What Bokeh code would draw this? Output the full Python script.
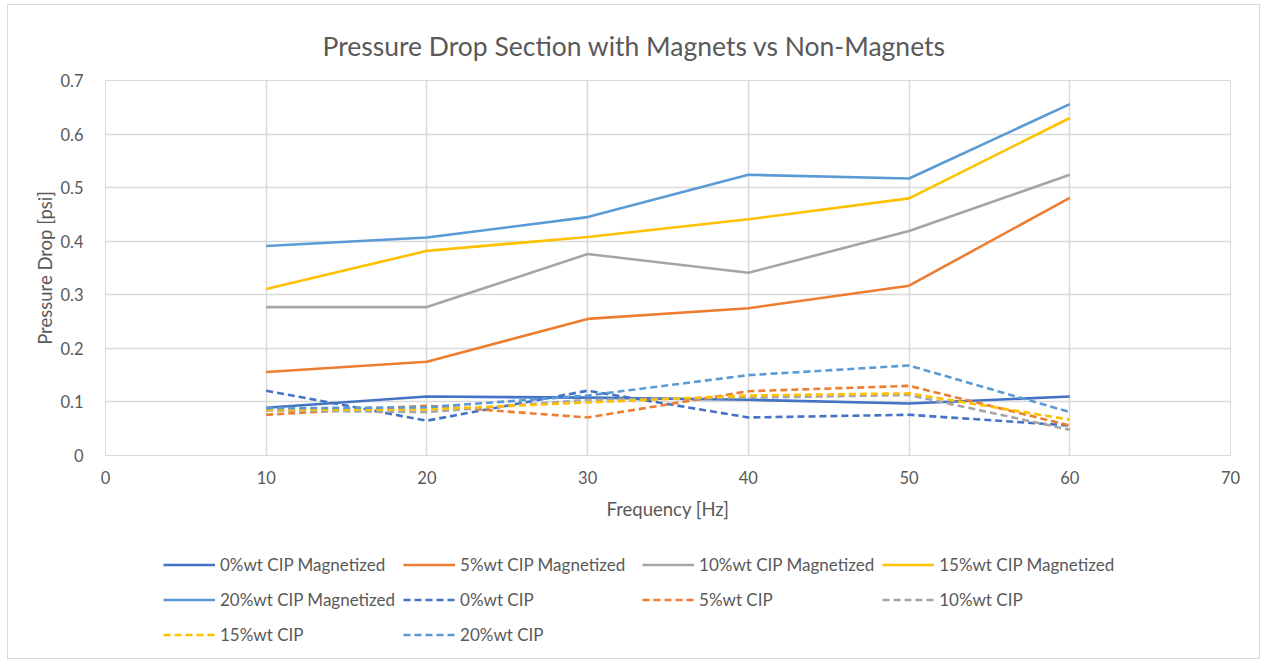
from bokeh.plotting import figure
from bokeh.layouts import column
from bokeh.models import Legend, LegendItem, FixedTicker, Range1d
from bokeh.embed import file_html
from bokeh.resources import INLINE

freq = [10, 20, 30, 40, 50, 60]

mag_0 = [0.089, 0.110, 0.108, 0.104, 0.097, 0.110]
mag_5 = [0.156, 0.175, 0.255, 0.275, 0.317, 0.481]
mag_10 = [0.277, 0.277, 0.376, 0.341, 0.419, 0.524]
mag_15 = [0.311, 0.382, 0.408, 0.441, 0.480, 0.630]
mag_20 = [0.391, 0.407, 0.445, 0.524, 0.517, 0.656]

non_0 = [0.121, 0.065, 0.121, 0.071, 0.076, 0.056]
non_5 = [0.076, 0.093, 0.071, 0.120, 0.130, 0.056]
non_10 = [0.084, 0.081, 0.104, 0.108, 0.113, 0.048]
non_15 = [0.085, 0.086, 0.099, 0.112, 0.116, 0.067]
non_20 = [0.088, 0.090, 0.112, 0.150, 0.168, 0.081]

labels = ["0%wt CIP Magnetized", "5%wt CIP Magnetized", "10%wt CIP Magnetized",
          "15%wt CIP Magnetized", "20%wt CIP Magnetized",
          "0%wt CIP", "5%wt CIP", "10%wt CIP", "15%wt CIP", "20%wt CIP"]
series = [mag_0, mag_5, mag_10, mag_15, mag_20, non_0, non_5, non_10, non_15, non_20]
colors = ["#4472C4", "#ED7D31", "#A5A5A5", "#FFC000", "#5B9BD5"] * 2
dashes = ["solid"] * 5 + ["7 4"] * 5

x_ticks = [0, 10, 20, 30, 40, 50, 60, 70]
y_ticks = [0, 0.1, 0.2, 0.3, 0.4, 0.5, 0.6, 0.7]

FONT = "Lato"
GREY = "#595959"
GRID = "#d9d9d9"

# main chart
p = figure(width=1251, height=535, output_backend="svg", toolbar_location=None,
           x_range=Range1d(0, 70), y_range=Range1d(0, 0.7),
           min_border_left=97, min_border_right=29, min_border_top=75, min_border_bottom=85)
p.outline_line_color = GRID
p.outline_line_width = 1

p.title.text = "Pressure Drop Section with Magnets vs Non-Magnets"
p.title.align = "left"
p.title.offset = 217
p.title.text_font = FONT
p.title.text_font_size = "26.5px"
p.title.text_font_style = "normal"
p.title.text_color = GREY
p.title.standoff = 38

for ax in (p.xaxis[0], p.yaxis[0]):
    ax.major_tick_line_color = None
    ax.minor_tick_line_color = None
    ax.axis_line_color = GRID
    ax.major_label_text_font = FONT
    ax.major_label_text_font_size = "16.5px"
    ax.major_label_text_color = GREY
    ax.axis_label_text_font = FONT
    ax.axis_label_text_font_size = "18.5px"
    ax.axis_label_text_font_style = "normal"
    ax.axis_label_text_color = GREY

p.xaxis.ticker = FixedTicker(ticks=x_ticks)
p.yaxis.ticker = FixedTicker(ticks=y_ticks)
p.yaxis.major_label_overrides = {0: "0"}
p.xaxis.axis_label = "Frequency [Hz]"
p.yaxis.axis_label = "Pressure Drop [psi]"
p.xaxis.major_label_standoff = 9
p.xaxis.axis_label_standoff = 11
p.yaxis.major_label_standoff = 16
p.yaxis.axis_label_standoff = 1

p.xgrid.grid_line_color = GRID
p.ygrid.grid_line_color = GRID
p.xgrid.grid_line_width = 1.5
p.ygrid.grid_line_width = 1.5

for ys, c, d in zip(series, colors, dashes):
    p.line(freq, ys, line_color=c, line_width=2.6, line_dash=d)

# legend strip (same series drawn out of view, only the legend shows)
q = figure(width=1251, height=118, output_backend="svg", toolbar_location=None,
           x_range=Range1d(1000, 1001), y_range=Range1d(1000, 1001),
           min_border_left=0, min_border_right=0, min_border_top=0, min_border_bottom=0)
q.axis.visible = False
q.grid.visible = False
q.outline_line_color = None

items = []
for lab, ys, c, d in zip(labels, series, colors, dashes):
    r = q.line(freq, ys, line_color=c, line_width=2.6, line_dash=d)
    items.append(LegendItem(label=lab, renderers=[r]))

legend = Legend(items=items, orientation="horizontal", ncols=4, location=(58, 10.5),
                label_text_font=FONT, label_text_font_size="17px", label_text_color=GREY,
                glyph_width=52, glyph_height=27, label_height=27, label_width=174,
                label_standoff=5, spacing=8, padding=0, margin=0,
                border_line_color=None, background_fill_alpha=0)
q.add_layout(legend, "center")

layout = column(p, q, spacing=0)
layout.styles = {"border": "1px solid #d9d9d9", "margin-left": "7px", "margin-top": "4px"}

open("out.html", "w").write(file_html(layout, INLINE))
